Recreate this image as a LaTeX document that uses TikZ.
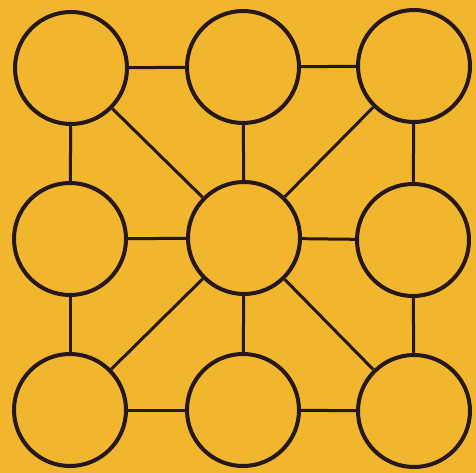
\documentclass[tikz,border=0pt]{standalone}
\definecolor{bg}{RGB}{241,181,46}
\definecolor{ink}{RGB}{38,24,24}
\begin{document}
\begin{tikzpicture}[x=1pt,y=-1pt,
  ring/.style={circle,draw=ink,line width=4pt,minimum size=112pt,inner sep=0pt},
  link/.style={draw=ink,line width=3pt}]
\fill[bg] (0,0) rectangle (476,473);
\useasboundingbox (0,0) rectangle (476,473);
\node[ring] (a) at (71,68) {};
\node[ring] (b) at (243,67) {};
\node[ring] (c) at (414,66) {};
\node[ring] (d) at (70,239) {};
\node[ring] (e) at (244,238) {};
\node[ring] (f) at (413,240) {};
\node[ring] (g) at (70,410) {};
\node[ring] (h) at (243,410) {};
\node[ring] (i) at (414,411) {};
\draw[link] (a) -- (b);
\draw[link] (b) -- (c);
\draw[link] (d) -- (e);
\draw[link] (e) -- (f);
\draw[link] (g) -- (h);
\draw[link] (h) -- (i);
\draw[link] (a) -- (d);
\draw[link] (d) -- (g);
\draw[link] (b) -- (e);
\draw[link] (e) -- (h);
\draw[link] (c) -- (f);
\draw[link] (f) -- (i);
\draw[link] (a) -- (e);
\draw[link] (c) -- (e);
\draw[link] (g) -- (e);
\draw[link] (i) -- (e);
\end{tikzpicture}
\end{document}
